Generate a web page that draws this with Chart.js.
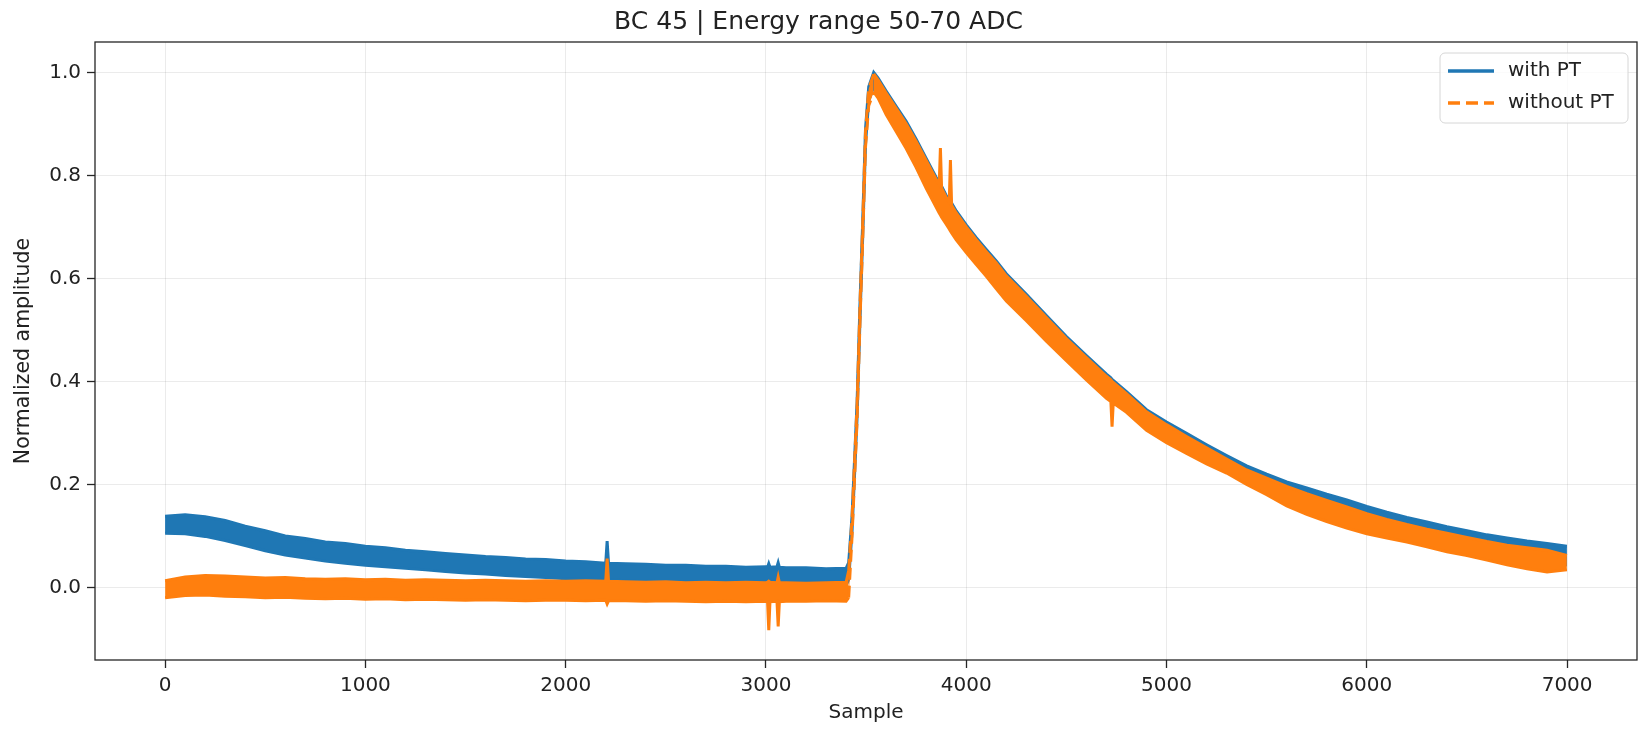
<!DOCTYPE html>
<html>
<head>
<meta charset="utf-8">
<title>BC 45 | Energy range 50-70 ADC</title>
<script src="https://cdn.jsdelivr.net/npm/chart.js@4.4.1/dist/chart.umd.min.js"></script>
<style>
  html, body { margin: 0; padding: 0; background: #fff; }
  #wrap { width: 1648px; height: 736px; }
</style>
</head>
<body>
<div id="wrap"><canvas id="pulseChart"></canvas></div>
<script>
// datos: posición de muestra y bordes (alto/bajo) de la banda de ruido
const samples = [
  0, 100, 200, 300, 400, 500, 600, 700, 800, 900,
  1000, 1100, 1200, 1300, 1400, 1500, 1600, 1700, 1800, 1900,
  2000, 2100, 2200, 2207, 2214, 2300, 2400, 2500, 2600, 2700,
  2800, 2900, 3000, 3008, 3014, 3020, 3055, 3061, 3067, 3100,
  3200, 3300, 3400, 3413, 3430, 3455, 3471, 3483, 3497, 3513,
  3538, 3560, 3600, 3650, 3700, 3750, 3800, 3850, 3865, 3871,
  3877, 3900, 3915, 3921, 3927, 3950, 4000, 4050, 4100, 4150,
  4200, 4300, 4400, 4500, 4600, 4700, 4722, 4728, 4734, 4800,
  4900, 5000, 5100, 5200, 5300, 5400, 5500, 5600, 5700, 5800,
  5900, 6000, 6100, 6200, 6300, 6400, 6500, 6600, 6700, 6800,
  6900, 6999
];

const withPtHigh = [
  0.138, 0.141, 0.137, 0.130, 0.119, 0.110, 0.100, 0.095, 0.088, 0.085,
  0.080, 0.077, 0.072, 0.069, 0.066, 0.063, 0.060, 0.058, 0.055, 0.054,
  0.051, 0.050, 0.047, 0.090, 0.047, 0.046, 0.045, 0.043, 0.043, 0.041,
  0.041, 0.039, 0.040, 0.039, 0.046, 0.039, 0.040, 0.048, 0.039, 0.038,
  0.038, 0.036, 0.037, 0.048, 0.140, 0.360, 0.570, 0.710, 0.890, 0.972,
  1.000, 0.989, 0.964, 0.934, 0.905, 0.870, 0.833, 0.796, 0.786, 0.782,
  0.779, 0.761, 0.752, 0.749, 0.746, 0.731, 0.704, 0.679, 0.656, 0.634,
  0.609, 0.569, 0.528, 0.487, 0.450, 0.414, 0.407, 0.404, 0.402, 0.380,
  0.345, 0.321, 0.299, 0.277, 0.256, 0.236, 0.220, 0.205, 0.193, 0.181,
  0.170, 0.157, 0.146, 0.136, 0.127, 0.118, 0.110, 0.102, 0.096, 0.090,
  0.085, 0.080
];

const withPtLow = [
  0.105, 0.104, 0.099, 0.091, 0.081, 0.071, 0.063, 0.057, 0.051, 0.047,
  0.043, 0.040, 0.037, 0.034, 0.031, 0.028, 0.026, 0.023, 0.021, 0.019,
  0.017, 0.016, 0.015, 0.015, 0.015, 0.013, 0.012, 0.011, 0.010, 0.009,
  0.008, 0.007, 0.006, 0.006, 0.006, 0.006, 0.006, 0.006, 0.006, 0.005,
  0.004, 0.004, 0.004, 0.015, 0.110, 0.330, 0.540, 0.680, 0.860, 0.945,
  0.972, 0.960, 0.928, 0.895, 0.862, 0.825, 0.785, 0.748, 0.737, 0.733,
  0.729, 0.715, 0.706, 0.702, 0.698, 0.685, 0.660, 0.637, 0.614, 0.590,
  0.566, 0.528, 0.488, 0.450, 0.413, 0.377, 0.371, 0.369, 0.368, 0.350,
  0.315, 0.291, 0.270, 0.250, 0.232, 0.214, 0.192, 0.169, 0.152, 0.138,
  0.125, 0.114, 0.106, 0.098, 0.089, 0.079, 0.072, 0.063, 0.054, 0.046,
  0.040, 0.044
];

const withoutPtHigh = [
  0.013, 0.020, 0.023, 0.022, 0.020, 0.018, 0.019, 0.017, 0.016, 0.017,
  0.015, 0.016, 0.014, 0.015, 0.014, 0.013, 0.014, 0.013, 0.012, 0.013,
  0.012, 0.013, 0.012, 0.056, 0.012, 0.011, 0.010, 0.011, 0.009, 0.010,
  0.009, 0.010, 0.009, 0.010, 0.012, 0.010, 0.009, 0.020, 0.009, 0.009,
  0.008, 0.009, 0.010, 0.032, 0.135, 0.355, 0.565, 0.705, 0.885, 0.968,
  0.997, 0.985, 0.960, 0.930, 0.900, 0.866, 0.829, 0.792, 0.782, 0.853,
  0.775, 0.757, 0.748, 0.830, 0.742, 0.727, 0.700, 0.675, 0.652, 0.630,
  0.605, 0.565, 0.524, 0.483, 0.446, 0.410, 0.403, 0.400, 0.398, 0.376,
  0.341, 0.316, 0.293, 0.271, 0.249, 0.228, 0.212, 0.196, 0.182, 0.169,
  0.156, 0.143, 0.132, 0.122, 0.113, 0.105, 0.097, 0.089, 0.082, 0.077,
  0.072, 0.062
];

const withoutPtLow = [
  -0.020, -0.016, -0.015, -0.017, -0.018, -0.020, -0.019, -0.021, -0.022, -0.021,
  -0.023, -0.022, -0.024, -0.023, -0.024, -0.025, -0.024, -0.025, -0.026, -0.025,
  -0.025, -0.026, -0.025, -0.032, -0.026, -0.026, -0.027, -0.026, -0.027, -0.028,
  -0.027, -0.028, -0.027, -0.028, -0.083, -0.028, -0.027, -0.076, -0.028, -0.027,
  -0.027, -0.026, -0.027, -0.020, 0.100, 0.325, 0.535, 0.675, 0.855, 0.935,
  0.962, 0.950, 0.918, 0.885, 0.852, 0.815, 0.775, 0.738, 0.727, 0.723,
  0.719, 0.705, 0.696, 0.692, 0.688, 0.675, 0.650, 0.627, 0.604, 0.580,
  0.556, 0.518, 0.478, 0.440, 0.403, 0.367, 0.361, 0.312, 0.358, 0.340,
  0.305, 0.281, 0.260, 0.240, 0.222, 0.200, 0.180, 0.158, 0.142, 0.128,
  0.115, 0.104, 0.096, 0.088, 0.079, 0.069, 0.062, 0.053, 0.044, 0.036,
  0.030, 0.034
];

const xTicks = [0, 1000, 2000, 3000, 4000, 5000, 6000, 7000];
const yTicks = [0.0, 0.2, 0.4, 0.6, 0.8, 1.0];
const seriesLabels = ['with PT', 'without PT'];
const chartTitle = 'BC 45 | Energy range 50-70 ADC';
// tramo de subida donde se ven los guiones de "without PT"
const riseRange = [3413, 3538];

const BLUE = '#1f77b4';
const ORANGE = '#ff7f0e';
const FONT = '"DejaVu Sans", sans-serif';
const DASH = [12, 6];

// convierte una lista de valores a puntos {x, y}
function toPoints(values) {
  return samples.map((s, i) => ({ x: s, y: values[i] }));
}

// marco completo del área de datos (como matplotlib)
const framePlugin = {
  id: 'frame',
  afterDraw(chart) {
    const { ctx, chartArea: a } = chart;
    ctx.save();
    ctx.strokeStyle = '#262626';
    ctx.lineWidth = 1.3;
    ctx.strokeRect(a.left, a.top, a.right - a.left, a.bottom - a.top);
    ctx.restore();
  }
};

// leyenda dentro del área, arriba a la derecha
const legendBoxPlugin = {
  id: 'legendBox',
  afterDraw(chart) {
    const { ctx, chartArea: a } = chart;
    const w = 188, h = 70;
    const x = a.right - 9 - w, y = a.top + 11;
    ctx.save();
    ctx.beginPath();
    ctx.roundRect(x, y, w, h, 5);
    ctx.fillStyle = 'rgba(255,255,255,0.8)';
    ctx.fill();
    ctx.strokeStyle = '#d6d6d6';
    ctx.lineWidth = 1;
    ctx.stroke();

    const items = [
      { color: BLUE, dash: [], label: seriesLabels[0] },
      { color: ORANGE, dash: DASH, label: seriesLabels[1] }
    ];
    items.forEach((it, i) => {
      const ly = y + 18 + i * 32;
      ctx.beginPath();
      ctx.setLineDash(it.dash);
      ctx.strokeStyle = it.color;
      ctx.lineWidth = 3.3;
      ctx.moveTo(x + 8, ly);
      ctx.lineTo(x + 54, ly);
      ctx.stroke();
      ctx.setLineDash([]);
      ctx.fillStyle = '#222';
      ctx.font = '20px ' + FONT;
      ctx.textBaseline = 'middle';
      ctx.fillText(it.label, x + 68, ly);
    });
    ctx.restore();
  }
};

// guiones sólo en la subida rápida (en el resto el ruido los tapa)
function riseDash(seg) {
  const x0 = seg.p0.parsed.x, x1 = seg.p1.parsed.x;
  return (x0 >= riseRange[0] && x1 <= riseRange[1]) ? DASH : undefined;
}

function bandDataset(values, color, fill, dashed, order) {
  return {
    data: toPoints(values),
    borderColor: color,
    backgroundColor: color,
    borderWidth: 3,
    pointRadius: 0,
    tension: 0,
    fill: fill,
    order: order,
    segment: dashed ? { borderDash: riseDash } : {}
  };
}

document.addEventListener('DOMContentLoaded', () => {
  const ctx = document.getElementById('pulseChart').getContext('2d');
  new Chart(ctx, {
    type: 'line',
    data: {
      datasets: [
        bandDataset(withPtLow, BLUE, false, false, 2),
        bandDataset(withPtHigh, BLUE, '-1', false, 2),
        bandDataset(withoutPtLow, ORANGE, false, true, 1),
        bandDataset(withoutPtHigh, ORANGE, '-1', true, 1)
      ]
    },
    options: {
      responsive: true,
      maintainAspectRatio: false,
      animation: false,
      layout: { padding: { left: 0, right: 11, top: 0, bottom: 0 } },
      plugins: {
        legend: { display: false },
        tooltip: { enabled: false },
        title: {
          display: true,
          text: chartTitle,
          color: '#222',
          font: { family: FONT, size: 25, weight: 'normal' },
          padding: { top: 7, bottom: 5 }
        }
      },
      scales: {
        x: {
          type: 'linear',
          min: -350,
          max: 7349,
          afterBuildTicks: s => { s.ticks = xTicks.map(v => ({ value: v })); },
          afterFit: s => { s.height = 76; },
          ticks: {
            color: '#222',
            font: { family: FONT, size: 20 },
            padding: 6,
            maxRotation: 0,
            callback: v => String(v)
          },
          grid: {
            color: 'rgba(0,0,0,0.08)',
            lineWidth: 1,
            tickColor: '#262626',
            tickLength: 8,
            tickWidth: 1.3
          },
          border: { display: false },
          title: {
            display: true,
            text: 'Sample',
            color: '#222',
            font: { family: FONT, size: 20 },
            padding: { top: 0, bottom: 11 }
          }
        },
        y: {
          type: 'linear',
          min: -0.141,
          max: 1.059,
          afterBuildTicks: s => { s.ticks = yTicks.map(v => ({ value: v })); },
          afterFit: s => { s.width = 95; },
          ticks: {
            color: '#222',
            font: { family: FONT, size: 20 },
            padding: 6,
            callback: v => Number(v).toFixed(1)
          },
          grid: {
            color: 'rgba(0,0,0,0.08)',
            lineWidth: 1,
            tickColor: '#262626',
            tickLength: 8,
            tickWidth: 1.3
          },
          border: { display: false },
          title: {
            display: true,
            text: 'Normalized amplitude',
            color: '#222',
            font: { family: FONT, size: 20.5 },
            padding: { top: 11, bottom: 0 }
          }
        }
      }
    },
    plugins: [framePlugin, legendBoxPlugin]
  });
});
</script>
</body>
</html>
